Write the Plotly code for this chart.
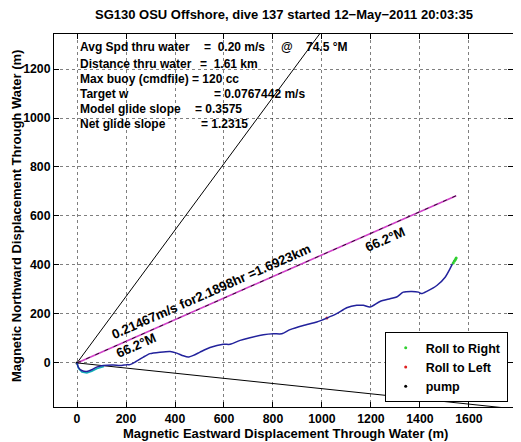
import numpy as np
import plotly.graph_objects as go

# ---------------- data ----------------
TITLE = "SG130 OSU Offshore, dive 137 started 12\u2212May\u22122011 20:03:35"
X_LABEL = "Magnetic Eastward Displacement Through Water (m)"
Y_LABEL = "Magnetic Northward Displacement Through Water (m)"

x_ticks = [0, 200, 400, 600, 800, 1000, 1200, 1400, 1600]
y_ticks = [0, 200, 400, 600, 800, 1000, 1200]

# glider track (m east, m north)
track_x = [0, 5, 19, 40, 60, 80, 107, 148, 176, 203, 216, 237, 271, 298, 339, 380,
           407, 434, 454, 475, 502, 543, 597, 625, 666, 706, 761, 802, 836, 870,
           924, 979, 1020, 1060, 1101, 1142, 1169, 1196, 1237, 1278, 1305, 1332,
           1367, 1394, 1407, 1428, 1469, 1503, 1523, 1537, 1548]
track_y = [0, -17, -31, -35, -28, -17, -11, -9, -11, -7, -7, 3, 24, 38, 44, 47,
           40, 29, 24, 31, 44, 63, 76, 76, 92, 103, 115, 119, 119, 136,
           153, 167, 183, 201, 225, 235, 235, 228, 251, 262, 269, 289,
           292, 289, 283, 292, 316, 350, 385, 412, 428]

# secondary (cyan) segment near the start
cyan_x = [0, 6, 20, 40, 60, 82, 110]
cyan_y = [0, -22, -37, -41, -34, -23, -15]

roll_right_x = [1536, 1541, 1545, 1548]
roll_right_y = [408, 416, 422, 428]
roll_left_x = [1020]
roll_left_y = [183]
pump_x = [0]
pump_y = [0]

# reference lines from origin: heading (deg magnetic), length (m)
ref_headings = [36.4, 96.0]
ref_lengths = [2200, 2200]

net_heading = 66.2
net_speed = 0.21467
net_hours = 2.1898
net_km = 1.6923

avg_speed = "0.20"
avg_depth = "74.5"
info_labels = ["Avg Spd thru water", "Distance thru water", "Max buoy (cmdfile)",
               "Target w", "Model glide slope", "Net glide slope"]
info_values = [f"=\u00a0\u00a0{avg_speed} m/s", "=\u00a0\u00a01.61 km",
               "= 120 cc", "= 0.0767442 m/s", "= 0.3575", "= 1.2315"]

# ---------------- layout geometry (page pixel coords) ----------------
PAGE_W, PAGE_H = 521, 442
OFF = 8                     # default body margin of the html page
PL, PT, PR, PB = 54, 34, 513, 407   # plot-area box on the page
W, H = PAGE_W - OFF, PAGE_H - OFF
ML, MT = PL - OFF, PT - OFF
MR, MB = (W + OFF) - PR, (H + OFF) - PB
X_RANGE = [-94, 1780]
Y_RANGE = [-180, 1343]
PW, PH = PR - PL, PB - PT


def px2x(px):
    return X_RANGE[0] + (px - PL) / PW * (X_RANGE[1] - X_RANGE[0])


def py2y(py):
    return Y_RANGE[1] - (py - PT) / PH * (Y_RANGE[1] - Y_RANGE[0])


def ppx(px):
    return (px - PL) / PW


def ppy(py):
    return (PB - py) / PH


FONT = "Liberation Sans, Arial, Helvetica, sans-serif"

fig = go.Figure()

# reference black lines
for hd, ln in zip(ref_headings, ref_lengths):
    a = np.deg2rad(hd)
    fig.add_trace(go.Scatter(x=[0, ln * np.sin(a)], y=[0, ln * np.cos(a)], mode="lines",
                             line=dict(color="black", width=1), showlegend=False,
                             hoverinfo="skip"))

# net displacement line
a = np.deg2rad(net_heading)
nx, ny = net_km * 1000 * np.sin(a), net_km * 1000 * np.cos(a)
fig.add_trace(go.Scatter(x=[0, nx], y=[0, ny], mode="lines",
                         line=dict(color="#d040c8", width=1.6), showlegend=False,
                         hoverinfo="skip"))
fig.add_trace(go.Scatter(x=[0, nx], y=[0, ny], mode="lines",
                         line=dict(color="black", width=0.8, dash="4px,6px"),
                         showlegend=False, hoverinfo="skip"))

# hidden markers first
fig.add_trace(go.Scatter(x=roll_left_x, y=roll_left_y, mode="markers", name="Roll to Left",
                         marker=dict(color="#e02020", size=3), legendrank=2))
fig.add_trace(go.Scatter(x=pump_x, y=pump_y, mode="markers", name="pump",
                         marker=dict(color="black", size=3), legendrank=3))

fig.add_trace(go.Scatter(x=cyan_x, y=cyan_y, mode="lines",
                         line=dict(color="#10b0b8", width=1.6), showlegend=False,
                         hoverinfo="skip"))
fig.add_trace(go.Scatter(x=track_x, y=track_y, mode="lines",
                         line=dict(color="#22229c", width=1.5, shape="spline", smoothing=0.6),
                         showlegend=False, hoverinfo="skip"))
fig.add_trace(go.Scatter(x=roll_right_x, y=roll_right_y, mode="markers", name="Roll to Right",
                         marker=dict(color="#30d030", size=3), legendrank=1))

annotations = []
# info block
INFO_FS = 12
info_y_px = [47.3, 64.3, 79.3, 94.3, 109.0, 124.0]
eq_x_px = [201.7, 197.5, 190.0, 211.7, 192.5, 199.3]
for lab, val, ypx, expx in zip(info_labels, info_values, info_y_px, eq_x_px):
    annotations.append(dict(x=px2x(78.3), y=py2y(ypx), text=lab, showarrow=False,
                            xanchor="left", yanchor="middle", font=dict(size=INFO_FS)))
    annotations.append(dict(x=px2x(expx), y=py2y(ypx), text=val, showarrow=False,
                            xanchor="left", yanchor="middle", font=dict(size=INFO_FS)))
annotations.append(dict(x=px2x(279), y=py2y(info_y_px[0]), text="@", showarrow=False,
                        xanchor="left", yanchor="middle", font=dict(size=INFO_FS)))
annotations.append(dict(x=px2x(304), y=py2y(info_y_px[0]), text=f"{avg_depth} \u00b0M",
                        showarrow=False, xanchor="left", yanchor="middle",
                        font=dict(size=INFO_FS)))

# rotated labels along net line
ang = -(90 - net_heading)
annotations.append(dict(x=px2x(210.9), y=py2y(291.1),
                        text=f"{net_speed}m/s for{net_hours}hr ={net_km}km",
                        showarrow=False, textangle=ang, font=dict(size=13.2),
                        xanchor="center", yanchor="middle"))
annotations.append(dict(x=px2x(136), y=py2y(345), text=f"{net_heading}\u00b0M",
                        showarrow=False, textangle=ang, font=dict(size=13.2),
                        xanchor="center", yanchor="middle"))
annotations.append(dict(x=px2x(385), y=py2y(239), text=f"{net_heading}\u00b0M",
                        showarrow=False, textangle=ang, font=dict(size=13.2),
                        xanchor="center", yanchor="middle"))

# title & axis titles
annotations.append(dict(xref="paper", yref="paper", x=ppx(283.5), y=ppy(15),
                        text=TITLE, showarrow=False, xanchor="center", yanchor="middle",
                        font=dict(size=13)))
annotations.append(dict(xref="paper", yref="paper", x=ppx(285), y=ppy(433),
                        text=X_LABEL, showarrow=False, xanchor="center", yanchor="middle",
                        font=dict(size=13)))
annotations.append(dict(xref="paper", yref="paper", x=ppx(16.5), y=ppy(215.6),
                        text=Y_LABEL, showarrow=False, textangle=-90,
                        xanchor="center", yanchor="middle", font=dict(size=13)))

axis_common = dict(showline=True, linecolor="black", linewidth=1, mirror="ticks",
                   ticks="inside", ticklen=5, tickcolor="black", tickwidth=1,
                   showgrid=True, gridcolor="rgba(0,0,0,0.5)", griddash="dot", gridwidth=1,
                   zeroline=False, tickfont=dict(size=12.3, color="black"), automargin=False)

fig.update_layout(
    width=W, height=H,
    margin=dict(l=ML, r=MR, t=MT, b=MB, autoexpand=False),
    paper_bgcolor="white", plot_bgcolor="white",
    font=dict(family=FONT, size=12, color="black", weight="bold"),
    xaxis=dict(range=X_RANGE, tickvals=x_ticks, ticktext=[str(v) for v in x_ticks],
               **axis_common),
    yaxis=dict(range=Y_RANGE, tickvals=y_ticks, ticktext=[str(v) for v in y_ticks],
               **axis_common),
    annotations=annotations,
    legend=dict(x=ppx(507.7), y=ppy(402), xanchor="right", yanchor="bottom",
                bgcolor="white", bordercolor="black", borderwidth=1,
                font=dict(size=12.5), tracegroupgap=0, itemwidth=30),
    showlegend=True,
)

fig.write_html("out.html")
